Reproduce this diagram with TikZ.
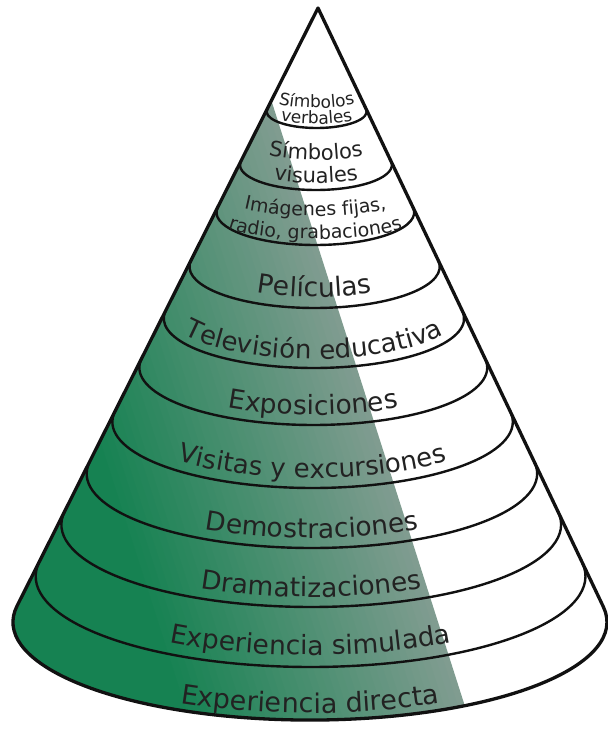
\documentclass[tikz,border=0pt]{standalone}
\usepackage{fontspec}
\setmainfont{DejaVu Sans}
\usetikzlibrary{decorations.text}
\definecolor{conegreen}{RGB}{22,130,82}
\definecolor{conegray}{RGB}{128,156,144}
\definecolor{labc}{RGB}{34,34,34}
\definecolor{linec}{RGB}{17,17,17}
\newcommand\myaL{189.43}
\newcommand\myaR{-8.93}
% [ry factor]{band bottom y}{baseline y}{size}{text}
\newcommand\conelabel[5][1]{%
  \pgfmathsetmacro\myT{(#2-8)/712}%
  \pgfmathsetmacro\myRx{297*\myT}%
  \pgfmathsetmacro\myRy{98*\myT*#1}%
  \pgfmathsetmacro\myCx{318-8*\myT}%
  \pgfmathsetmacro\myCy{#3-\myRy}%
  \pgfmathsetmacro\mySx{\myCx+\myRx*cos(205)}%
  \pgfmathsetmacro\mySy{\myCy+\myRy*sin(205)}%
  \path[decorate, decoration={text along path, text align=center,
     text={|\fontsize{#4}{#4}\selectfont\color{labc}|#5}}]
     (\mySx,\mySy)
     arc[start angle=205, end angle=-25, x radius=\myRx, y radius=\myRy];
}
\begin{document}
\begin{tikzpicture}[x=1pt,y=-1pt,
  bandline/.style={draw=linec, line width=2.4pt},
  outline/.style={draw=linec, line width=3.3pt, line join=round}]
\useasboundingbox (0,0) rectangle (608,729);
\fill[white] (0,0) rectangle (608,729);
\coordinate (apex) at (318,8);
\coordinate (bl) at (17.0,606.0);
\coordinate (br) at (603.4,606.8);
\coordinate (tl) at (276.75,89.9);
% green shading (stepwise gradient parallel to the white boundary)
\begin{scope}
  \clip (tl)
     arc[start angle=\myaL, end angle=351.07, x radius=40.7, y radius=13.4]
     -- (br)
     arc[start angle=\myaR, end angle=\myaL, x radius=297, y radius=98] -- cycle;
  \foreach \k in {0,...,40} {
    \pgfmathsetmacro\myOff{\k*7}
    \pgfmathsetmacro\myMix{100-\k*2.5}
    \pgfmathsetmacro\myXa{268-\myOff+0.3196*(40-90)}
    \pgfmathsetmacro\myXb{268-\myOff+0.3196*(760-90)}
    \fill[conegray!\myMix!conegreen] (-20,40) -- (\myXa,40) -- (\myXb,760) -- (-20,760) -- cycle;
  }
\end{scope}
% band arcs
\foreach \yb in {128,190,245,308,368,425,488,548,607,667} {
  \pgfmathsetmacro\myT{(\yb-8)/712}
  \pgfmathsetmacro\myCx{318-8*\myT}
  \pgfmathsetmacro\myCy{8+614*\myT}
  \pgfmathsetmacro\myRx{297*\myT}
  \pgfmathsetmacro\myRy{98*\myT}
  \pgfmathsetmacro\mySx{\myCx+\myRx*cos(\myaL)}
  \pgfmathsetmacro\mySy{\myCy+\myRy*sin(\myaL)}
  \draw[bandline] (\mySx,\mySy)
     arc[start angle=\myaL, end angle=\myaR, x radius=\myRx, y radius=\myRy];
}
% cone outline
\draw[outline] (apex) -- (bl)
   arc[start angle=\myaL, end angle=\myaR, x radius=297, y radius=98] -- cycle;
% labels
\conelabel[0.7]{128}{108}{17}{Símbolos}
\conelabel[0.7]{128}{124}{17}{verbales}
\conelabel[0.8]{190}{160}{21}{Símbolos}
\conelabel[0.8]{190}{183}{21}{visuales}
\conelabel[0.7]{245}{216}{19}{Imágenes fijas,}
\conelabel[0.6]{245}{239}{19}{radio, grabaciones}
\conelabel{308}{297}{26.5}{Películas}
\conelabel{368}{359}{26}{Televisión educativa}
\conelabel{425}{415}{26.5}{Exposiciones}
\conelabel{488}{478}{26}{Visitas y excursiones}
\conelabel{548}{538}{26.5}{Demostraciones}
\conelabel{607}{597}{26.5}{Dramatizaciones}
\conelabel{667}{655}{26.5}{Experiencia simulada}
\conelabel{720}{713}{27}{Experiencia directa}
\end{tikzpicture}
\end{document}
